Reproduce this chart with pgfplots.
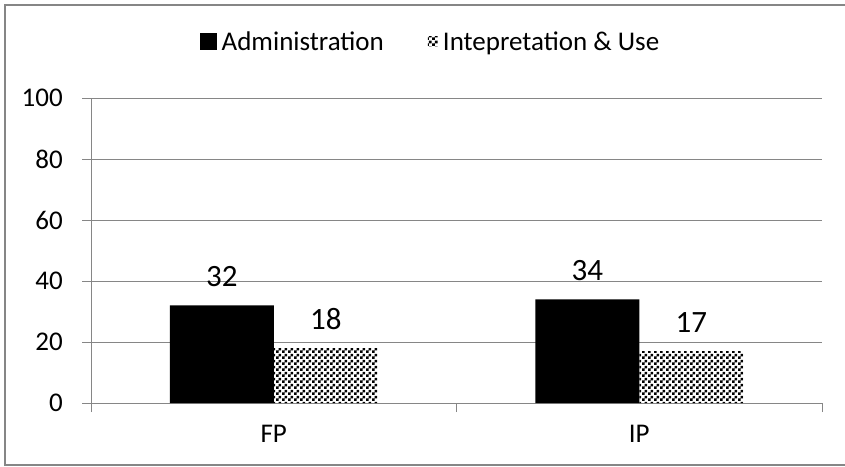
\documentclass[border=0pt]{standalone}
\usepackage{pgfplots}
\pgfplotsset{compat=1.18}
\usepackage{fontspec}
\setmainfont{Carlito}
\usetikzlibrary{patterns}
\pgfdeclarepatternformonly{mychecker}{\pgfqpoint{0pt}{0pt}}{\pgfqpoint{6pt}{6pt}}{\pgfqpoint{6pt}{6pt}}{%
  \pgfpathrectangle{\pgfqpoint{0pt}{0pt}}{\pgfqpoint{3pt}{3pt}}%
  \pgfpathrectangle{\pgfqpoint{3pt}{3pt}}{\pgfqpoint{3pt}{3pt}}%
  \pgfusepath{fill}}
\definecolor{axgray}{HTML}{868686}
\begin{document}
\begin{tikzpicture}
\useasboundingbox (-91pt,-63pt) rectangle (754pt,403pt);
\draw[axgray, line width=1.2pt] (760pt,398pt) -- (-86pt,398pt) -- (-86pt,-62pt) -- (760pt,-62pt);
\begin{axis}[
  at={(0pt,0pt)}, anchor=south west,
  scale only axis, width=731pt, height=305pt,
  xmin=-0.5, xmax=1.5, ymin=0, ymax=100,
  axis lines*=left,
  axis line style={axgray, line width=0.9pt},
  ytick={0,20,40,60,80,100},
  ymajorgrids, grid style={axgray, line width=0.9pt},
  tick align=outside, major tick length=9pt,
  tick style={axgray, line width=0.9pt},
  xtick={-0.5,0.5,1.5}, xticklabels={},
  extra x ticks={0,1}, extra x tick labels={FP,IP},
  extra x tick style={major tick length=0pt, xticklabel style={anchor=north, inner sep=0pt, yshift=-22pt}},
  /pgf/number format/assume math mode=true,
  ticklabel style={font=\fontsize{27}{31}\selectfont, text=black},
  yticklabel style={anchor=east, inner sep=0pt, xshift=-19pt},
  ybar=0pt, bar width=104pt,
  nodes near coords,
  every node near coord/.append style={font=\fontsize{31}{36}\selectfont, anchor=south, inner sep=0pt, yshift=18pt, text=black},
  legend columns=2,
  legend style={draw=none, at={(0.463,1.184)}, anchor=center,
    font=\fontsize{27}{31}\selectfont,
    nodes={inner sep=0pt},
    /tikz/every odd column/.append style={column sep=5pt},
    /tikz/every even column/.append style={column sep=44pt}},
]
\addplot[fill=black, draw=none,
  legend image code/.code={\fill[black] (0pt,-8.5pt) rectangle (17pt,8.5pt);}]
  coordinates {(0,32) (1,34)};
\addplot[pattern=mychecker, pattern color=black, draw=none,
  legend image code/.code={\fill[pattern=mychecker, pattern color=black] (0pt,-5pt) rectangle (10pt,5pt);}]
  coordinates {(0,18) (1,17)};
\legend{Administration, Intepretation \& Use}
\end{axis}
\end{tikzpicture}
\end{document}
